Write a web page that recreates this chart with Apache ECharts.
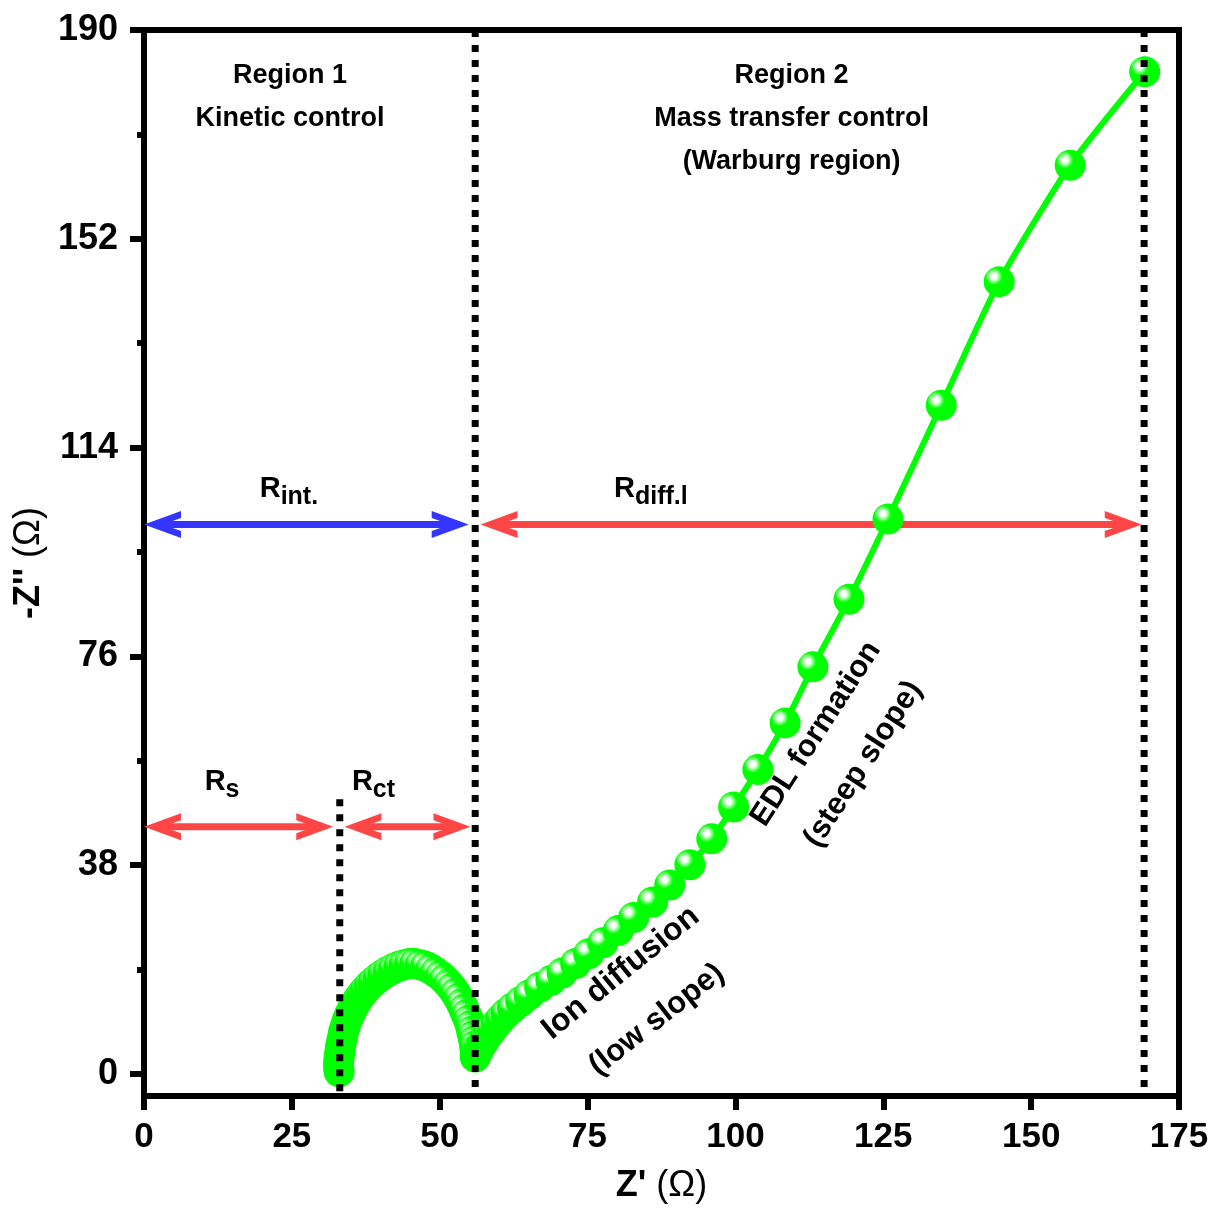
<!DOCTYPE html>
<html>
<head>
<meta charset="utf-8">
<title>Nyquist plot</title>
<script src="https://cdn.jsdelivr.net/npm/echarts@6/dist/echarts.min.js"></script>
<style>
  html, body { margin: 0; padding: 0; background: #fff; }
  #chart { width: 1213px; height: 1209px; }
</style>
</head>
<body>
<div id="chart"></div>
<script>
// Impedance spectrum: real part Z' and imaginary part -Z'' (both in ohm)
const zReal = [
  33.0, 32.9, 32.9, 33.0, 33.1, 33.2, 33.4, 33.6, 33.8, 34.1,
  34.4, 34.8, 35.2, 35.7, 36.2, 36.8, 37.4, 38.1, 38.8, 39.6,
  40.4, 41.3, 42.2, 43.1, 44.0, 44.9, 45.8, 46.7, 47.6, 48.5,
  49.3, 50.1, 50.8, 51.5, 52.1, 52.7, 53.2, 53.7, 54.1, 54.5,
  54.9, 55.2, 55.4, 55.6, 55.8, 55.9, 56.0, 56.0, 56.0,
  56.3, 56.7, 57.2, 57.7, 58.3, 58.9, 59.6, 60.3, 61.2, 62.3,
  63.7, 65.1, 66.9, 68.8, 70.7, 73.0, 75.2, 77.6, 80.2, 82.8,
  86.0, 88.9, 92.3, 96.0, 99.7, 103.8, 108.4, 113.1, 119.2, 125.8,
  134.8, 144.6, 156.6, 169.2
];
const zImag = [
  0.4, 1.2, 2.1, 3.0, 3.9, 4.9, 5.9, 6.9, 7.9, 8.9,
  9.9, 10.9, 11.8, 12.7, 13.6, 14.5, 15.3, 16.1, 16.8, 17.5,
  18.1, 18.7, 19.2, 19.6, 19.9, 20.1, 20.1, 19.9, 19.6, 19.1,
  18.5, 17.9, 17.2, 16.4, 15.6, 14.7, 13.8, 12.8, 11.8, 10.8,
  9.8, 8.8, 7.8, 6.9, 6.0, 5.1, 4.3, 3.6, 3.1,
  3.8, 4.6, 5.5, 6.4, 7.3, 8.2, 9.1, 10.0, 11.0, 12.0,
  13.2, 14.4, 15.8, 17.0, 18.4, 20.1, 21.9, 23.9, 26.1, 28.5,
  31.3, 34.4, 38.1, 42.8, 48.6, 55.4, 63.9, 74.1, 86.4, 101.0,
  121.7, 144.2, 165.4, 182.4
];

// Axis ticks
const yTicks = [0, 38, 76, 114, 152, 190];
const yMinorTicks = [19, 57, 95, 133, 171];

// Region boundaries on Z' (ohm): [x, lowest -Z'', highest -Z'']
const boundaries = [
  [33.1, -4, 50],
  [56.0, -4, 190],
  [169.1, -4, 190]
];

// Resistance spans: label parts, arrow tips on Z', level on -Z''
const spans = [
  { main: 'R', sub: 'int.',   from: 0,    to: 54.9,  level: 100, color: '#3535ff', labelX: 24.5, labelY: 106.5 },
  { main: 'R', sub: 'diff.l', from: 56.9, to: 168.7, level: 100, color: '#ff4646', labelX: 85.7, labelY: 106.5 },
  { main: 'R', sub: 's',      from: 0,    to: 32.0,  level: 45,  color: '#ff4646', labelX: 13.2, labelY: 53.2 },
  { main: 'R', sub: 'ct',     from: 33.9, to: 55.2,  level: 45,  color: '#ff4646', labelX: 38.8, labelY: 53.2 }
];

// Text notes placed at data coordinates; angle in degrees
const notes = [
  { text: 'Region 1\nKinetic control', x: 24.7, y: 177.8, angle: 0, size: 27 },
  { text: 'Region 2\nMass transfer control\n(Warburg region)', x: 109.5, y: 173.9, angle: 0, size: 27 },
  { text: 'EDL formation', x: 113.6, y: 61.9, angle: 57, size: 31 },
  { text: '(steep slope)', x: 121.6, y: 56.4, angle: 57, size: 31 },
  { text: 'Ion diffusion', x: 80.6, y: 18.4, angle: 39, size: 32 },
  { text: '(low slope)', x: 86.7, y: 9.9, angle: 38, size: 31 }
];

const FONT = '"Liberation Sans", Arial, Helvetica, sans-serif';
const GREEN = '#00ff00';

const chart = echarts.init(document.getElementById('chart'), null, { renderer: 'canvas' });

const ballColor = {
  type: 'radial', x: 0.33, y: 0.33, r: 0.5,
  colorStops: [
    { offset: 0, color: '#ffffff' },
    { offset: 0.14, color: '#ffffff' },
    { offset: 0.26, color: '#c8ffc8' },
    { offset: 0.42, color: '#55ff55' },
    { offset: 0.56, color: GREEN },
    { offset: 1, color: GREEN }
  ]
};

const series = [
  {
    name: 'impedance',
    type: 'line',
    data: zReal.map((x, i) => [x, zImag[i]]),
    symbol: 'circle',
    symbolSize: 31,
    showAllSymbol: true,
    smooth: 0.2,
    lineStyle: { color: GREEN, width: 6 },
    itemStyle: { color: ballColor, borderWidth: 0 },
    emphasis: { disabled: true },
    z: 3
  }
];

boundaries.forEach(b => {
  series.push({
    type: 'line',
    data: [[b[0], b[2]], [b[0], b[1]]],
    symbol: 'none',
    lineStyle: { color: '#000', width: 7, type: [7, 8], cap: 'butt' },
    emphasis: { disabled: true },
    silent: true,
    z: 5
  });
});

const axisName = {
  rich: {
    b: { fontSize: 36, fontWeight: 'bold', color: '#000', fontFamily: FONT },
    n: { fontSize: 36, fontWeight: 'normal', color: '#000', fontFamily: FONT }
  }
};

const option = {
  animation: false,
  backgroundColor: '#ffffff',
  grid: {
    left: 144, right: 34, top: 30, bottom: 112,
    show: true, borderColor: '#000', borderWidth: 6, backgroundColor: 'transparent'
  },
  xAxis: {
    type: 'value', min: 0, max: 175, interval: 25,
    axisLine: { show: true, onZero: false, lineStyle: { color: '#000', width: 6 } },
    axisTick: { show: true, inside: false, length: 14, lineStyle: { color: '#000', width: 6 } },
    axisLabel: { fontSize: 35, fontWeight: 'bold', color: '#000', margin: 24, fontFamily: FONT },
    splitLine: { show: false },
    name: "{b|Z'}{n| (Ω)}",
    nameLocation: 'middle',
    nameGap: 72,
    nameTextStyle: axisName
  },
  yAxis: [
    {
      type: 'value', min: -4, max: 190, position: 'left',
      axisLine: { show: true, onZero: false, lineStyle: { color: '#000', width: 6 } },
      axisTick: { show: true, inside: false, length: 14, customValues: yTicks, lineStyle: { color: '#000', width: 6 } },
      axisLabel: { fontSize: 36, fontWeight: 'bold', color: '#000', margin: 26, fontFamily: FONT, customValues: yTicks },
      splitLine: { show: false },
      name: "{b|-Z''}{n| (Ω)}",
      nameLocation: 'middle',
      nameGap: 86,
      nameTextStyle: axisName
    },
    {
      type: 'value', min: -4, max: 190, position: 'left', offset: 0,
      axisLine: { show: false },
      axisTick: { show: true, inside: false, length: 7, customValues: yMinorTicks, lineStyle: { color: '#000', width: 6 } },
      axisLabel: { show: false },
      splitLine: { show: false }
    }
  ],
  series: series
};

chart.setOption(option);

// Annotations placed at their data coordinates
const toPx = (x, y) => chart.convertToPixel({ xAxisIndex: 0, yAxisIndex: 0 }, [x, y]);
const graphics = [];

// Chevron head with its tip at (tx, ty), pointing along dir (+1 right, -1 left)
function arrowHead(tx, ty, dir, color) {
  const L = 37, W = 13.5, w = 6.5, notch = 19;
  const pts = [
    [tx, ty],
    [tx - dir * L, ty - W],
    [tx - dir * L, ty - w],
    [tx - dir * notch, ty],
    [tx - dir * L, ty + w],
    [tx - dir * L, ty + W]
  ];
  return { type: 'polygon', silent: true, z: 2, shape: { points: pts }, style: { fill: color } };
}

spans.forEach(s => {
  const a = toPx(s.from, s.level);
  const b = toPx(s.to, s.level);
  graphics.push({
    type: 'line', silent: true, z: 2,
    shape: { x1: a[0] + 12, y1: a[1], x2: b[0] - 12, y2: b[1] },
    style: { stroke: s.color, lineWidth: 7, lineCap: 'butt' }
  });
  graphics.push(arrowHead(a[0], a[1], -1, s.color));
  graphics.push(arrowHead(b[0], b[1], 1, s.color));

  const p = toPx(s.labelX, s.labelY);
  graphics.push({
    type: 'text', x: p[0], y: p[1], silent: true, z: 10,
    style: {
      text: '{r|' + s.main + '}{s|' + s.sub + '}',
      x: 0, y: 0, align: 'center', verticalAlign: 'middle', fill: '#000',
      rich: {
        r: { fontSize: 29, fontWeight: 'bold', fontFamily: FONT, fill: '#000' },
        s: { fontSize: 25, fontWeight: 'bold', fontFamily: FONT, fill: '#000', padding: [16, 0, 0, 0] }
      }
    }
  });
});

notes.forEach(n => {
  const p = toPx(n.x, n.y);
  graphics.push({
    type: 'text', x: p[0], y: p[1],
    rotation: n.angle * Math.PI / 180,
    silent: true, z: 10,
    style: {
      text: n.text, x: 0, y: 0,
      align: 'center', verticalAlign: 'middle',
      fontSize: n.size, lineHeight: 43, fontWeight: 'bold',
      fontFamily: FONT, fill: '#000'
    }
  });
});

chart.setOption({ graphic: graphics });
</script>
</body>
</html>
